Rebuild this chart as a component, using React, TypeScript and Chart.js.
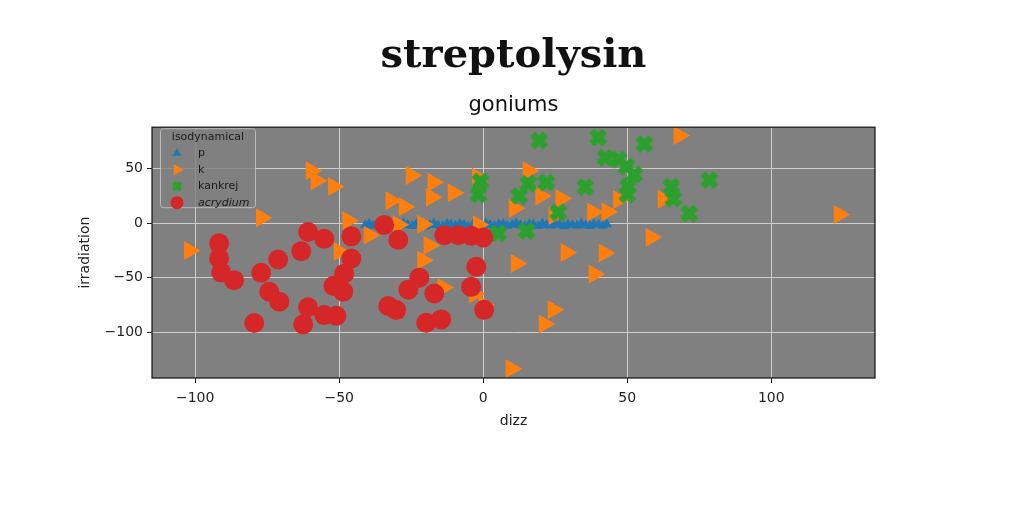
import { useEffect, useRef } from 'react'
import { Chart, registerables } from 'chart.js'
import { drawPoint } from 'chart.js/helpers'

Chart.register(...registerables)

// series "p" (blue triangles, dense band)
const pX = [-41, -39.6, -38.1, -36.7, -35.2, -33.6, -32.3, -30.8, -29.1, -27.7, -26.2, -24.6, -23.1, -21.7, -20.2, -18.6, -17.2, -15.7, -14.1, -12.6, -11.2, -9.7, -8.1, -6.6, -5.2, -3.6, -2.1, -0.7, 0.9, 2.4, 3.9, 5.4, 6.9, 8.4, 10.0, 11.4, 12.9, 14.5, 16.0, 17.4, 19.0, 20.5, 22.0, 23.4, 25.0, 26.5, 28.0, 29.4, 31.0, 32.5, 34.0, 35.5, 37.0, 38.4, 40.0, 41.5, 42.9]
const pY = [-1.9, -0.6, -2.4, -1.2, -0.1, -2.8, -1.5, -0.9, -2.2, 0, -1.8, -2.5, -0.4, -1.1, -2.9, -1.6, -0.2, -2.0, -2.6, -0.8, -1.3, -2.1, -0.5, -1.7, -3.0, -1.0, -1.4, -2.3, -0.3, -1.8, -2.7, -1.1, -0.7, -2.4, -1.5, -0.1, -2.0, -2.8, -0.9, -1.2, -2.5, -0.4, -1.7, -2.1, -0.6, -1.4, -2.9, -1.0, -1.6, -2.2, -0.3, -1.9, -2.6, -0.8, -1.3, -2.4, -1.1]

// series "k" (orange right triangles)
const kX = [-59.7, -58, -52, -25, -17.4, -18, -10.4, -32, -27.4, -77, -47, -21, -29.5, -39.6, -1.7, -18.8, -102, -50, -21, 11.5, -14, 0.3, 9.7, 58.3, 28.8, 42, 38.5, 24.3, 21.2, 68, 15.6, -2, 20, 27, 10.8, 38, 43, 24.6, 47, 62.5, 123.6, -3]
const kY = [48, 39, 33.6, 43.8, 37.6, 23.8, 27.8, 20.5, 15, 5, 2.5, -1, -1.5, -11, -1.4, -20.4, -25, -26, -34, -37, -59, -75, -133.5, -13, -27, -27.3, -46.7, -79.5, -92.5, 80.4, 48, 42, 25, 22.7, 13.6, 10.3, 10.5, 7, 21.6, 22, 8, -65]

// series "kankrej" (green X)
const kankrejX = [19.4, 39.9, 55.9, 42.4, 46.9, 49.7, 52.4, 78.5, 35.4, 50.3, 50, 65.3, 66, 71.5, -1, -1.7, 15.6, 21.9, 12.5, 26, 5.2, 15]
const kankrejY = [75.8, 78.4, 72.6, 60, 58.4, 52, 44.8, 39.4, 33, 33.7, 26.3, 33.4, 22.4, 8.7, 38.3, 26.3, 36.2, 37.3, 25, 9.8, -9.4, -7.2]

// series "acrydium" (red circles)
const acrydiumX = [-91.7, -91.7, -91, -86.5, -77.1, -71.2, -63.2, -60.8, -55.2, -45.8, -45.8, -48.3, -52, -48.6, -74.3, -70.8, -60.8, -55.2, -51, -79.5, -62.5, -34.4, -29.5, -33, -30.2, -26, -22.2, -17, -19.8, -14.6, -2.4, -4.2, 0.3, -13.5, -8.7, -4.2, 0]
const acrydiumY = [-18.5, -32.3, -45.1, -52.3, -45.5, -33.3, -25.7, -8.1, -14.4, -12.1, -32.4, -46.3, -57.5, -62.8, -62.9, -72, -77.1, -84.3, -85, -91.6, -92.8, -1.7, -15.3, -76, -79.7, -61, -50, -64.5, -91.3, -88.3, -40, -58.4, -79.5, -11, -11, -11.5, -13.2]

const xTicks = [-100, -50, 0, 50, 100]
const yTicks = [-100, -50, 0, 50]

const BLUE = '#1f77b4'
const ORANGE = '#ff7f0e'
const GREEN = '#2ca02c'
const RED = '#d62728'

function makeX(size: number, lw: number) {
  const c = document.createElement('canvas')
  c.width = size
  c.height = size
  const g = c.getContext('2d')
  if (g) {
    g.strokeStyle = GREEN
    g.lineWidth = lw
    const m = lw * 0.5
    g.beginPath()
    g.moveTo(m, m)
    g.lineTo(size - m, size - m)
    g.moveTo(size - m, m)
    g.lineTo(m, size - m)
    g.stroke()
  }
  return c
}

const pts = (xs: number[], ys: number[]) => xs.map((x, i) => ({ x, y: ys[i] }))
const minus = (v: number | string) => String(v).replace('-', '\u2212')

export default function App() {
  const canvasRef = useRef<HTMLCanvasElement>(null)
  const chartRef = useRef<Chart | null>(null)

  useEffect(() => {
    if (!canvasRef.current) return
    if (chartRef.current) chartRef.current.destroy()

    Chart.defaults.font.family = 'DejaVu Sans'
    const bigX = makeX(20, 7)
    const smallX = makeX(12, 4.5)

    const frame = {
      id: 'frame',
      beforeDraw(chart: Chart) {
        const { ctx, chartArea: a } = chart
        ctx.save()
        ctx.fillStyle = '#808080'
        ctx.fillRect(a.left, a.top, a.right - a.left, a.bottom - a.top)
        ctx.restore()
      },
      afterDatasetsDraw(chart: Chart) {
        const { ctx, chartArea: a } = chart
        ctx.save()
        // legend
        const lx = a.left + 8
        const ly = a.top + 1
        ctx.beginPath()
        ctx.roundRect(lx + 0.5, ly + 0.5, 95, 79, 3)
        ctx.fillStyle = 'rgba(128,128,128,0.8)'
        ctx.fill()
        ctx.strokeStyle = 'rgba(200,200,200,0.8)'
        ctx.lineWidth = 1
        ctx.stroke()
        ctx.fillStyle = '#1a1a1a'
        ctx.font = '11px DejaVu Sans'
        ctx.textBaseline = 'middle'
        ctx.textAlign = 'center'
        ctx.fillText('isodynamical', lx + 48, ly + 9)
        ctx.textAlign = 'left'
        const rows = [
          { label: 'p', color: BLUE, style: 'triangle', r: 5, rot: 0 },
          { label: 'k', color: ORANGE, style: 'triangle', r: 6.5, rot: 90 },
          { label: 'kankrej', color: GREEN, style: smallX, r: 6, rot: 0 },
          { label: 'acrydium', color: RED, style: 'circle', r: 6.5, rot: 0 },
        ]
        rows.forEach((row, i) => {
          const y = ly + 25 + i * 16.5
          ctx.fillStyle = row.color
          drawPoint(ctx, { pointStyle: row.style as any, radius: row.r, rotation: row.rot, borderWidth: 0 }, lx + 17, y)
          ctx.fillStyle = '#1a1a1a'
          ctx.font = (i === 3 ? 'italic ' : '') + '11px DejaVu Sans'
          ctx.fillText(row.label, lx + 38, y)
        })
        // axes frame
        ctx.strokeStyle = '#111'
        ctx.lineWidth = 1.2
        ctx.strokeRect(a.left, a.top, a.right - a.left, a.bottom - a.top)
        ctx.restore()
      },
    }

    chartRef.current = new Chart(canvasRef.current, {
      type: 'scatter',
      data: {
        datasets: [
          {
            label: 'p',
            data: pts(pX, pY),
            backgroundColor: BLUE,
            borderWidth: 0,
            pointStyle: 'triangle',
            pointRadius: 6,
            order: 3,
          },
          {
            label: 'k',
            data: pts(kX, kY),
            backgroundColor: ORANGE,
            borderWidth: 0,
            pointStyle: 'triangle',
            rotation: 90,
            pointRadius: 11,
            order: 2,
          },
          {
            label: 'kankrej',
            data: pts(kankrejX, kankrejY),
            backgroundColor: GREEN,
            borderWidth: 0,
            pointStyle: bigX,
            pointRadius: 10,
            order: 1,
          },
          {
            label: 'acrydium',
            data: pts(acrydiumX, acrydiumY),
            backgroundColor: RED,
            borderWidth: 0,
            pointStyle: 'circle',
            pointRadius: 10,
            order: 0,
          },
        ],
      },
      options: {
        animation: false,
        responsive: true,
        maintainAspectRatio: false,
        layout: { padding: { left: 0, right: 149, top: 0, bottom: 0 }, autoPadding: false },
        plugins: {
          legend: { display: false },
          tooltip: { enabled: false },
          title: {
            display: true,
            text: 'streptolysin',
            fullSize: false,
            color: '#111',
            font: { family: 'DejaVu Serif', size: 40, weight: 'bold' },
            padding: { top: 33, bottom: 0 },
          },
          subtitle: {
            display: true,
            text: 'goniums',
            fullSize: false,
            color: '#111',
            font: { family: 'DejaVu Sans', size: 21 },
            padding: { top: 12, bottom: 9 },
          },
        },
        scales: {
          x: {
            type: 'linear',
            min: -115,
            max: 136,
            afterBuildTicks: (s: any) => {
              s.ticks = xTicks.map((v) => ({ value: v }))
            },
            afterFit: (s: any) => {
              s.height = 134
            },
            border: { display: false },
            grid: { color: '#cccccc', tickColor: '#222', tickLength: 5 },
            ticks: { padding: 7, color: '#222', font: { size: 14 }, callback: (v: any) => minus(v) },
            title: { display: true, text: 'dizz', color: '#222', font: { size: 14 }, padding: { top: 0, bottom: 82 } },
          },
          y: {
            type: 'linear',
            min: -142,
            max: 88,
            afterBuildTicks: (s: any) => {
              s.ticks = yTicks.map((v) => ({ value: v }))
            },
            afterFit: (s: any) => {
              s.width = 152
            },
            border: { display: false },
            grid: { color: '#cccccc', tickColor: '#222', tickLength: 5 },
            ticks: { padding: 4, color: '#222', font: { size: 14 }, callback: (v: any) => minus(v) },
            title: { display: true, text: 'irradiation', color: '#222', font: { size: 14 }, padding: { top: 77, bottom: 0 } },
          },
        },
      },
      plugins: [frame],
    })

    return () => {
      if (chartRef.current) {
        chartRef.current.destroy()
        chartRef.current = null
      }
    }
  }, [])

  return (
    <div style={{ position: 'fixed', left: 0, top: 0, width: 1024, height: 512, background: '#fff' }}>
      <canvas ref={canvasRef} />
    </div>
  )
}
